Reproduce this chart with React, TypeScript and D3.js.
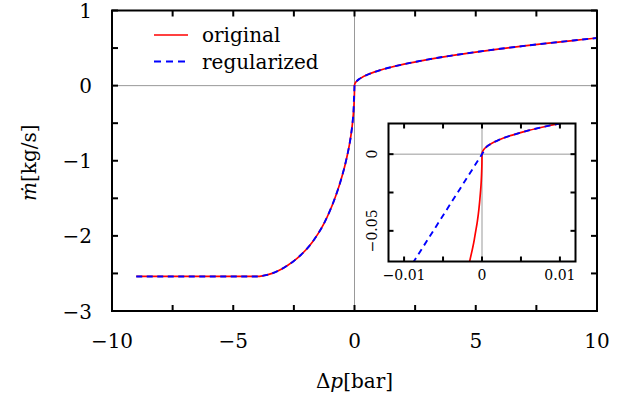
import React, { useEffect, useRef } from 'react';
import * as d3 from 'd3';

// pressure drop [bar] and mass flow [kg/s]
const origDp = [
  -9, -8, -7, -6, -5, -4.5, -4, -3.8, -3.6, -3.4, -3.2, -3.0, -2.75, -2.5, -2.25, -2.0, -1.75, -1.5,
  -1.25, -1.0, -0.85, -0.7, -0.6, -0.5, -0.4, -0.3, -0.2, -0.15, -0.1, -0.07, -0.05, -0.03, -0.02,
  -0.01, -0.006, -0.004, -0.003, -0.002, -0.0015, -0.001, -0.0008, -0.0006, -0.0004, -0.0003,
  -0.0002, -0.0001, -0.00004, -0.00001, 0,
  0.00003, 0.0001, 0.0002, 0.0004, 0.0007, 0.001, 0.0015, 0.002, 0.003, 0.004, 0.006, 0.008, 0.01,
  0.013, 0.02, 0.05, 0.1, 0.2, 0.35, 0.5, 0.75, 1, 1.5, 2, 3, 4, 5, 6, 7, 8, 9, 10,
];
const origM = [
  -2.54, -2.54, -2.54, -2.54, -2.54, -2.54, -2.54, -2.533, -2.519, -2.499, -2.473, -2.44, -2.39,
  -2.333, -2.265, -2.185, -2.088, -1.97, -1.83, -1.655, -1.535, -1.40, -1.30, -1.19, -1.07, -0.93, -0.77,
  -0.67, -0.55, -0.46, -0.39, -0.30, -0.247, -0.175, -0.136, -0.111, -0.096, -0.079, -0.068, -0.056,
  -0.050, -0.044, -0.036, -0.031, -0.025, -0.018, -0.011, -0.0055, 0,
  0.0011, 0.002, 0.0028, 0.004, 0.0053, 0.0063, 0.0077, 0.0089, 0.011, 0.0126, 0.0155, 0.0179, 0.020,
  0.0228, 0.0283, 0.0447, 0.0632, 0.0894, 0.118, 0.141, 0.173, 0.200, 0.245, 0.283, 0.346, 0.400,
  0.447, 0.490, 0.529, 0.566, 0.600, 0.634,
];

const regDp = [
  -9, -8, -7, -6, -5, -4.5, -4, -3.8, -3.6, -3.4, -3.2, -3.0, -2.75, -2.5, -2.25, -2.0, -1.75, -1.5,
  -1.25, -1.0, -0.85, -0.7, -0.6, -0.5, -0.4, -0.3, -0.2, -0.15, -0.1, -0.07, -0.05, -0.048, -0.03,
  -0.02, -0.01, -0.005, 0, 0.0003, 0.000625, 0.001, 0.0015, 0.002, 0.003, 0.004, 0.006, 0.008, 0.01,
  0.013, 0.02, 0.05, 0.1, 0.2, 0.35, 0.5, 0.75, 1, 1.5, 2, 3, 4, 5, 6, 7, 8, 9, 10,
];
const regM = [
  -2.54, -2.54, -2.54, -2.54, -2.54, -2.54, -2.54, -2.533, -2.519, -2.499, -2.473, -2.44, -2.39,
  -2.333, -2.265, -2.185, -2.088, -1.97, -1.83, -1.655, -1.535, -1.40, -1.30, -1.19, -1.07, -0.93, -0.77,
  -0.67, -0.55, -0.46, -0.39, -0.384, -0.24, -0.16, -0.08, -0.04, 0, 0.0024, 0.005, 0.0063, 0.0077,
  0.0089, 0.011, 0.0126, 0.0155, 0.0179, 0.020, 0.0228, 0.0283, 0.0447, 0.0632, 0.0894, 0.118, 0.141,
  0.173, 0.200, 0.245, 0.283, 0.346, 0.400, 0.447, 0.490, 0.529, 0.566, 0.600, 0.634,
];

const xTicks = [-10, -7.5, -5, -2.5, 0, 2.5, 5, 7.5, 10];
const xLabels = [-10, -5, 0, 5, 10];
const yTicks = [-3, -2.5, -2, -1.5, -1, -0.5, 0, 0.5, 1];
const yLabels = [-3, -2, -1, 0, 1];

const insetXTicks = [-0.01, -0.005, 0, 0.005, 0.01];
const insetXLabels = [-0.01, 0, 0.01];
const insetYTicks = [-0.05, -0.025, 0];
const insetYLabels = [-0.05, 0];

const seriesNames = ['original', 'regularized'];

const FONT = "'DejaVu Serif', 'Liberation Serif', serif";
const fmt = (v: number) => String(v).replace('-', '\u2212');

const App = () => {
  const ref = useRef<SVGSVGElement>(null);

  useEffect(() => {
    const width = 628;
    const height = 401;
    const svg = d3.select(ref.current).attr('width', width).attr('height', height)
      .style('font-family', FONT);
    svg.selectAll('*').remove();

    const orig = origDp.map((d, i) => [d, origM[i]] as [number, number]);
    const reg = regDp.map((d, i) => [d, regM[i]] as [number, number]);

    const drawPanel = (
      g: d3.Selection<SVGGElement, unknown, null, undefined>,
      x: d3.ScaleLinear<number, number>,
      y: d3.ScaleLinear<number, number>,
      clipId: string,
      opts: { xTicks: number[]; yTicks: number[]; tickLen: number; stroke: number }
    ) => {
      const [x0, x1] = x.range();
      const [y0, y1] = y.range();
      g.append('rect')
        .attr('x', x0).attr('y', y1).attr('width', x1 - x0).attr('height', y0 - y1)
        .attr('fill', 'white');

      g.append('clipPath').attr('id', clipId)
        .append('rect')
        .attr('x', x0).attr('y', y1).attr('width', x1 - x0).attr('height', y0 - y1);

      // zero lines
      g.append('line')
        .attr('x1', x(0)).attr('x2', x(0)).attr('y1', y0).attr('y2', y1)
        .attr('stroke', '#999').attr('stroke-width', 1);
      g.append('line')
        .attr('x1', x0).attr('x2', x1).attr('y1', y(0)).attr('y2', y(0))
        .attr('stroke', '#999').attr('stroke-width', 1);

      const line = d3.line<[number, number]>()
        .curve(d3.curveMonotoneX)
        .x(d => x(d[0]))
        .y(d => y(d[1]));

      const curves = g.append('g').attr('clip-path', `url(#${clipId})`);
      curves.append('path')
        .attr('d', line(orig))
        .attr('fill', 'none')
        .attr('stroke', '#ff0000')
        .attr('stroke-width', 1.7);
      curves.append('path')
        .attr('d', line(reg))
        .attr('fill', 'none')
        .attr('stroke', '#0000ff')
        .attr('stroke-width', 1.9)
        .attr('stroke-dasharray', '6,4.5');

      // ticks on all four sides, pointing inwards
      const t = opts.tickLen;
      opts.xTicks.forEach(v => {
        g.append('line').attr('x1', x(v)).attr('x2', x(v)).attr('y1', y0).attr('y2', y0 - t)
          .attr('stroke', 'black').attr('stroke-width', opts.stroke);
        g.append('line').attr('x1', x(v)).attr('x2', x(v)).attr('y1', y1).attr('y2', y1 + t)
          .attr('stroke', 'black').attr('stroke-width', opts.stroke);
      });
      opts.yTicks.forEach(v => {
        g.append('line').attr('x1', x0).attr('x2', x0 + t).attr('y1', y(v)).attr('y2', y(v))
          .attr('stroke', 'black').attr('stroke-width', opts.stroke);
        g.append('line').attr('x1', x1).attr('x2', x1 - t).attr('y1', y(v)).attr('y2', y(v))
          .attr('stroke', 'black').attr('stroke-width', opts.stroke);
      });

      g.append('rect')
        .attr('x', x0).attr('y', y1).attr('width', x1 - x0).attr('height', y0 - y1)
        .attr('fill', 'none').attr('stroke', 'black').attr('stroke-width', opts.stroke);
    };

    // main panel
    const x = d3.scaleLinear().domain([-10, 10]).range([112, 597]);
    const y = d3.scaleLinear().domain([-3, 1]).range([311, 10.5]);
    const main = svg.append('g');
    drawPanel(main, x, y, 'clip-main', { xTicks, yTicks, tickLen: 6, stroke: 2 });

    main.selectAll('.xl').data(xLabels).enter().append('text')
      .attr('x', d => x(d)).attr('y', 348)
      .attr('text-anchor', 'middle')
      .style('font-size', '20px')
      .text(d => fmt(d));
    main.selectAll('.yl').data(yLabels).enter().append('text')
      .attr('x', 92).attr('y', d => y(d) + 7.5)
      .attr('text-anchor', 'end')
      .style('font-size', '20px')
      .text(d => fmt(d));

    // axis titles
    const xt = svg.append('text')
      .attr('x', x(0)).attr('y', 388).attr('text-anchor', 'middle')
      .style('font-size', '20px');
    xt.append('tspan').text('\u0394');
    xt.append('tspan').style('font-style', 'italic').text('p');
    xt.append('tspan').text('[bar]');

    const yt = svg.append('text')
      .attr('transform', `translate(36,${y(-1) + 2}) rotate(-90)`)
      .attr('text-anchor', 'middle')
      .style('font-size', '20px');
    yt.append('tspan').style('font-style', 'italic').text('\u1E41');
    yt.append('tspan').text('[kg/s]');

    // legend
    const legend = svg.append('g');
    seriesNames.forEach((name, i) => {
      const ly = 35 + i * 26.5;
      legend.append('line')
        .attr('x1', 154).attr('x2', 188).attr('y1', ly).attr('y2', ly)
        .attr('stroke', i === 0 ? '#ff0000' : '#0000ff')
        .attr('stroke-width', i === 0 ? 1.7 : 1.9)
        .attr('stroke-dasharray', i === 0 ? null : '7,5');
      legend.append('text')
        .attr('x', 202).attr('y', ly + 7)
        .style('font-size', '20px')
        .text(name);
    });

    // inset
    const ix = d3.scaleLinear().domain([-0.012, 0.012]).range([388.5, 575.5]);
    const iy = d3.scaleLinear().domain([-0.07, 0.02]).range([261.5, 123.5]);
    const inset = svg.append('g');
    drawPanel(inset, ix, iy, 'clip-inset', {
      xTicks: insetXTicks, yTicks: insetYTicks, tickLen: 5, stroke: 2,
    });

    inset.selectAll('.ixl').data(insetXLabels).enter().append('text')
      .attr('x', d => ix(d)).attr('y', 280)
      .attr('text-anchor', 'middle')
      .style('font-size', '14px')
      .text(d => fmt(d));
    inset.selectAll('.iyl').data(insetYLabels).enter().append('text')
      .attr('transform', d => `translate(377,${iy(d)}) rotate(-90)`)
      .attr('text-anchor', 'middle')
      .style('font-size', '14px')
      .text(d => fmt(d));
  }, []);

  return <svg ref={ref} style={{ position: 'absolute', left: 0, top: 0 }}></svg>;
};

export default App;
